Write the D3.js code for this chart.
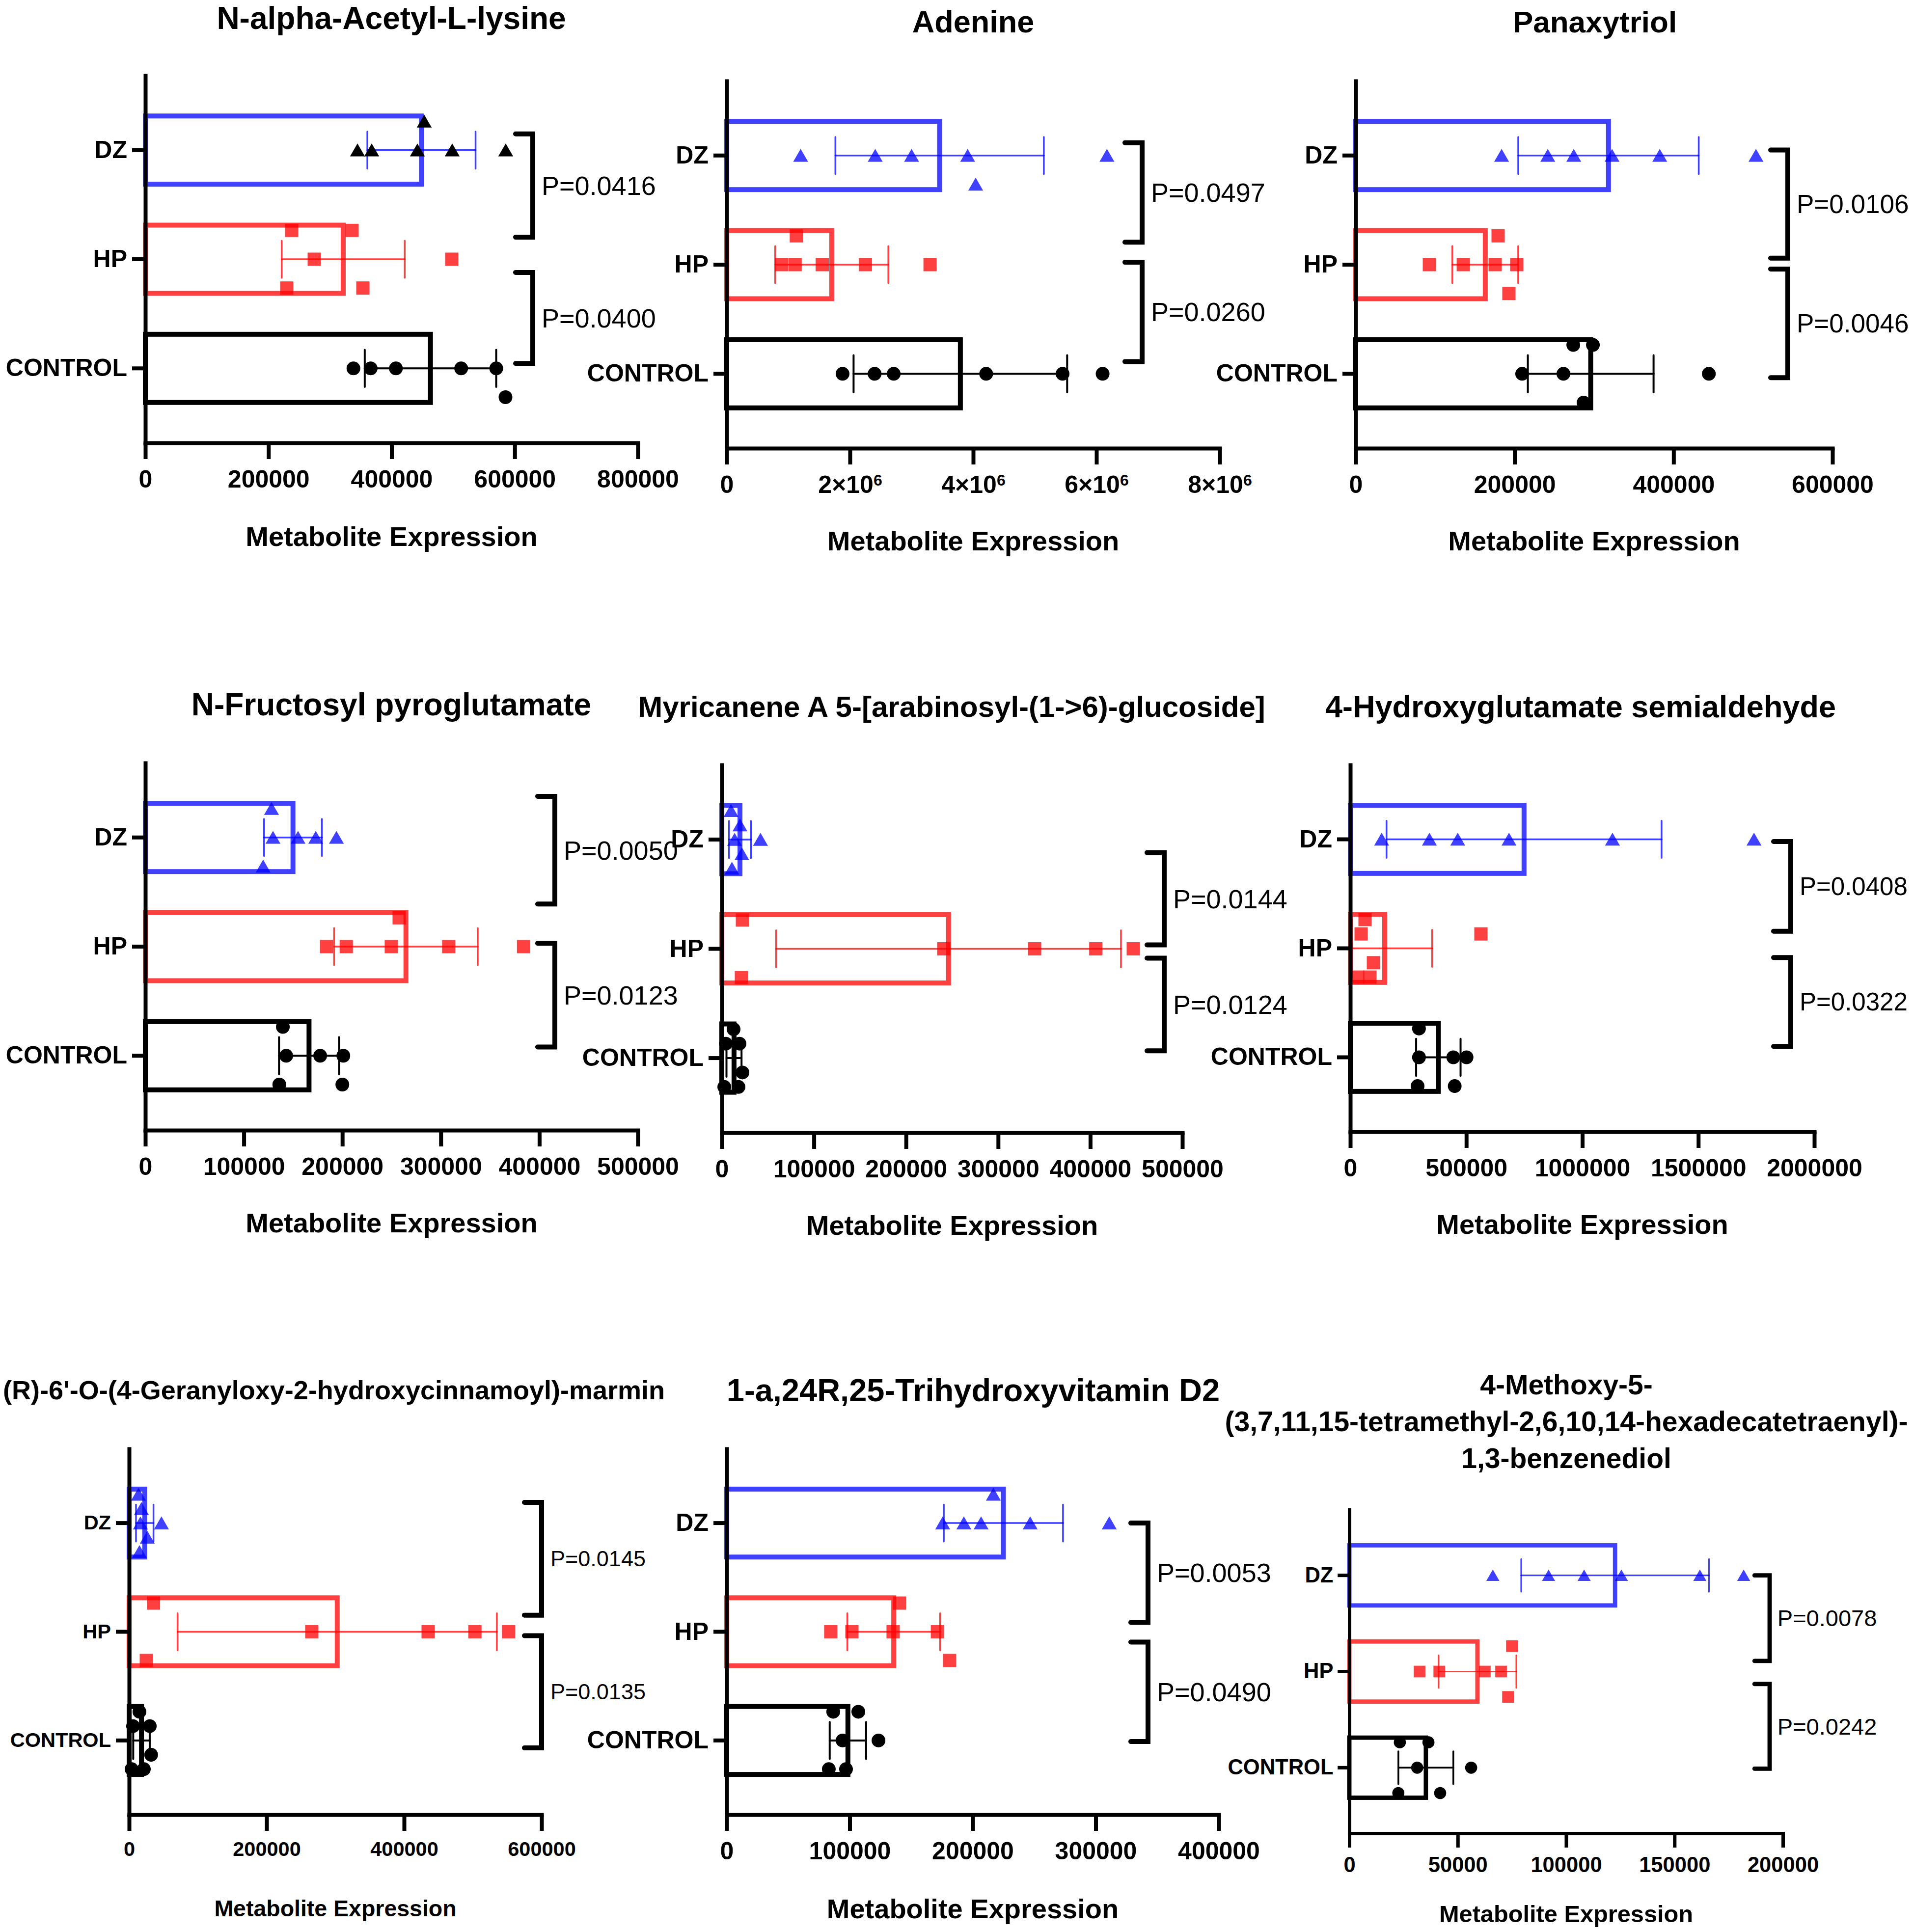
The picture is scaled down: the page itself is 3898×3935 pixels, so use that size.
<!DOCTYPE html>
<html>
<head>
<meta charset="utf-8">
<style>
body { margin: 0; padding: 0; background: #fff; }
svg { display: block; background: #fff; }
text {
  font-family: "Liberation Sans", Arial, Helvetica, sans-serif;
  fill: #000;
}
.title, .xlabel, .tick text { font-weight: bold; }
.pval { font-weight: normal; }
</style>
<script src="https://cdnjs.cloudflare.com/ajax/libs/d3/7.8.5/d3.min.js"></script>
</head>
<body>
<svg id="chart" width="3898" height="3935"></svg>
<script>
// ---- data ----
var titles = [
  ["N-alpha-Acetyl-L-lysine"],
  ["Adenine"],
  ["Panaxytriol"],
  ["N-Fructosyl pyroglutamate"],
  ["Myricanene A 5-[arabinosyl-(1->6)-glucoside]"],
  ["4-Hydroxyglutamate semialdehyde"],
  ["(R)-6'-O-(4-Geranyloxy-2-hydroxycinnamoyl)-marmin"],
  ["1-a,24R,25-Trihydroxyvitamin D2"],
  ["4-Methoxy-5-", "(3,7,11,15-tetramethyl-2,6,10,14-hexadecatetraenyl)-", "1,3-benzenediol"]
]

var groups = ["DZ", "HP", "CONTROL"]

var xMax = [800000, 8000000, 600000, 500000, 500000, 2000000, 600000, 400000, 200000]

var xTicks = [
  [0, 200000, 400000, 600000, 800000],
  [0, 2000000, 4000000, 6000000, 8000000],
  [0, 200000, 400000, 600000],
  [0, 100000, 200000, 300000, 400000, 500000],
  [0, 100000, 200000, 300000, 400000, 500000],
  [0, 500000, 1000000, 1500000, 2000000],
  [0, 200000, 400000, 600000],
  [0, 100000, 200000, 300000, 400000],
  [0, 50000, 100000, 150000, 200000]
]

// P values: DZ vs HP, HP vs CONTROL
var pUpper = ["P=0.0416", "P=0.0497", "P=0.0106", "P=0.0050", "P=0.0144", "P=0.0408", "P=0.0145", "P=0.0053", "P=0.0078"]
var pLower = ["P=0.0400", "P=0.0260", "P=0.0046", "P=0.0123", "P=0.0124", "P=0.0322", "P=0.0135", "P=0.0490", "P=0.0242"]

var dzValues = [
  [344600, 367700, 441900, 498500, 585400, 453000],
  [1200000, 2410000, 3000000, 3910000, 6170000, 4040000],
  [183600, 241700, 274400, 322600, 382600, 503700],
  [128100, 129600, 155000, 173000, 194000, 119600],
  [10000, 19700, 13900, 21800, 11000, 42000],
  [135000, 341000, 463000, 684000, 1130000, 1740000],
  [13600, 17900, 16400, 26400, 15000, 47000],
  [216800, 175600, 192800, 206800, 246700, 311000],
  [66200, 91900, 108300, 125500, 161700, 181900]
]

var hpValues = [
  [237700, 335800, 274400, 497700, 229700, 353400],
  [1130000, 890000, 1110000, 1550000, 2250000, 3300000],
  [179200, 92700, 135400, 175500, 202700, 192800],
  [257700, 184000, 204000, 249700, 308000, 384000],
  [22400, 241000, 339600, 406000, 446700, 21300],
  [63500, 46600, 563000, 99500, 31700, 84700],
  [35400, 265700, 435000, 503000, 552000, 25000],
  [140500, 84600, 101800, 135300, 171300, 181200],
  [75000, 32400, 41500, 62500, 70000, 73200]
]

var ctrlValues = [
  [338000, 366000, 407000, 513000, 570000, 585000],
  [1880000, 2400000, 2710000, 4210000, 5450000, 6100000],
  [273800, 298500, 209500, 261400, 444400, 286800],
  [139600, 143000, 177500, 201000, 136000, 200000],
  [12800, 4300, 19200, 22400, 2700, 18100],
  [296000, 296000, 444000, 501000, 290000, 450000],
  [15000, 5700, 30000, 32000, 3600, 21400],
  [86600, 107000, 94200, 123400, 83000, 97000],
  [23300, 36500, 31300, 56200, 22600, 41900]
]

// scatter row of each point (0 = on the bar centre line)
var dzRows = [
  [0, 0, 0, 0, 0, -2], [0, 0, 0, 0, 0, 2], [0, 0, 0, 0, 0, 0],
  [-2, 0, 0, 0, 0, 2], [-2, -1, 0, 1, 2, 0], [0, 0, 0, 0, 0, 0],
  [-2, -1, 0, 1, 2, 0], [-2, 0, 0, 0, 0, 0], [0, 0, 0, 0, 0, 0]
]
var hpRows = [
  [-2, -2, 0, 0, 2, 2], [-2, 0, 0, 0, 0, 0], [-2, 0, 0, 0, 0, 2],
  [-2, 0, 0, 0, 0, 0], [-2, 0, 0, 0, 0, 2], [-2, -1, -1, 1, 2, 2],
  [-2, 0, 0, 0, 0, 2], [-2, 0, 0, 0, 0, 2], [-2, 0, 0, 0, 0, 2]
]
var ctrlRows = [
  [0, 0, 0, 0, 0, 2], [0, 0, 0, 0, 0, 0], [-2, -2, 0, 0, 0, 2],
  [-2, 0, 0, 0, 2, 2], [-2, -1, -1, 1, 2, 2], [-2, 0, 0, 0, 2, 2],
  [-2, -1, -1, 1, 2, 2], [-2, -2, 0, 0, 2, 2], [-2, -2, 0, 0, 2, 2]
]

// ---- layout of each panel (pixels) ----
// x0/x1: x axis span, y0/y1: y axis span, tx/ty: title centre, tf: title size,
// bx: bracket x, br: bracket ends in band steps, pf: p-value size,
// k: text scale, s: mark scale, lg: axis title gap
var frames = [
  {x0: 296, x1: 1299, y0: 154, y1: 902, tx: 797, ty: 37, tf: 64, bx: 1085, br: [-0.148, -0.202, 0.121, -0.045], pf: 54, k: 1, s: 1, lg: 190},
  {x0: 1480, x1: 2484, y0: 165, y1: 913, tx: 1982, ty: 44, tf: 63, bx: 2326, br: [-0.117, -0.206, -0.022, -0.112], pf: 54, k: 1, s: 1, lg: 188},
  {x0: 2761, x1: 3732, y0: 165, y1: 913, tx: 3248, ty: 44, tf: 62, bx: 3641, br: [-0.05, -0.06, 0.04, 0.036], pf: 53, k: 1, s: 1, lg: 188},
  {x0: 296, x1: 1299, y0: 1554, y1: 2302, tx: 797, ty: 1435, tf: 64, bx: 1130, br: [-0.377, -0.39, -0.03, -0.08], pf: 54, k: 1, s: 1, lg: 188},
  {x0: 1470, x1: 2408, y0: 1558, y1: 2307, tx: 1938, ty: 1439, tf: 60, bx: 2371, br: [0.12, -0.036, 0.085, -0.067], pf: 54, k: 1, s: 1, lg: 188},
  {x0: 2750, x1: 3695, y0: 1558, y1: 2305, tx: 3219, ty: 1439, tf: 63, bx: 3647, br: [0.02, -0.157, 0.085, -0.1], pf: 51, k: 1, s: 1, lg: 188},
  {x0: 263, x1: 1103, y0: 2951, y1: 3696, tx: 680, ty: 2831, tf: 54, bx: 1103, br: [-0.19, -0.153, 0.036, 0.068], pf: 45, k: 0.83, s: 1, lg: 191},
  {x0: 1480, x1: 2482, y0: 2951, y1: 3696, tx: 1982, ty: 2831, tf: 65, bx: 2338, br: [0, -0.086, 0.095, 0.01], pf: 54, k: 1, s: 1, lg: 191},
  {x0: 2748, x1: 3631, y0: 3075, y1: 3734, tx: 3190, ty: 2820, tf: 57, bx: 3604, br: [0, -0.11, 0.13, 0.01], pf: 47, k: 0.87, s: 0.88, lg: 164}
]

var colors = ["rgba(0,0,255,0.75)", "rgba(255,0,0,0.75)", "#000"]
var symbols = [d3.symbolTriangle, d3.symbolSquare, d3.symbolCircle]
var symbolArea = [400, 729, 616]

var svg = d3.select("#chart")

frames.forEach(function(f, i) {
  var k = f.k, s = f.s
  var g = svg.append("g")

  var x = d3.scaleLinear().domain([0, xMax[i]]).range([f.x0, f.x1])
  var y = d3.scaleBand().domain(groups).range([f.y0, f.y1])
    .paddingInner(0.375).paddingOuter(0.37)
  var step = y.step()
  var cy = function(grp) { return y(grp) + y.bandwidth() / 2 }

  // title
  var t = g.append("text").attr("class", "title")
    .attr("text-anchor", "middle")
    .style("font-size", f.tf + "px")
  titles[i].forEach(function(line, j) {
    t.append("tspan")
      .attr("x", f.tx)
      .attr("y", f.ty + j * 75)
      .attr("dominant-baseline", "central")
      .text(line)
  })

  var sets = [dzValues[i], hpValues[i], ctrlValues[i]]
  var rows = [dzRows[i], hpRows[i], ctrlRows[i]]

  // bars (mean)
  groups.forEach(function(grp, j) {
    var m = d3.mean(sets[j])
    g.append("rect")
      .attr("x", x(0))
      .attr("y", y(grp))
      .attr("width", x(m) - x(0))
      .attr("height", y.bandwidth())
      .attr("fill", "none")
      .attr("stroke", colors[j])
      .attr("stroke-width", 10 * s)
  })

  // error bars (mean +/- SD)
  groups.forEach(function(grp, j) {
    var m = d3.mean(sets[j]), sd = d3.deviation(sets[j])
    var lo = Math.max(0, m - sd), hi = m + sd
    var c = cy(grp), cap = 0.17 * step
    var eg = g.append("g")
      .attr("stroke", colors[j])
      .attr("stroke-width", (j == 2 ? 4 : 3.5) * s)
      .attr("stroke-linecap", "round")
      .attr("fill", "none")
    eg.append("line").attr("x1", x(lo)).attr("x2", x(hi)).attr("y1", c).attr("y2", c)
    if (m - sd > 0) {
      eg.append("line").attr("x1", x(lo)).attr("x2", x(lo)).attr("y1", c - cap).attr("y2", c + cap)
    }
    eg.append("line").attr("x1", x(hi)).attr("x2", x(hi)).attr("y1", c - cap).attr("y2", c + cap)
  })

  // individual points
  groups.forEach(function(grp, j) {
    var sym = d3.symbol().type(symbols[j]).size(symbolArea[j] * s * s)
    var fill = (i == 0 && j == 0) ? "#000" : colors[j]
    g.append("g").selectAll("path")
      .data(sets[j])
      .join("path")
      .attr("d", sym)
      .attr("fill", fill)
      .attr("transform", function(d, n) {
        var dy = rows[j][n] * 0.132 * step
        var ty = j == 0 ? 4 * s : 0
        return "translate(" + x(d) + "," + (cy(grp) + dy + ty) + ")"
      })
  })

  // axes
  var sci = xMax[i] >= 8000000
  var fmt = sci ? function(v) { return v == 0 ? "0" : (v / 1e6) + "×10" } : d3.format("d")
  var xa = g.append("g")
    .attr("transform", "translate(0," + f.y1 + ")")
    .call(d3.axisBottom(x).tickValues(xTicks[i]).tickSize(33 * s).tickSizeOuter(0)
      .tickPadding(22 * s).tickFormat(fmt))
  xa.selectAll("text").style("font-size", (50 * k) + "px")
  if (sci) {
    xa.selectAll("text").filter(function(d) { return d != 0 })
      .append("tspan")
      .attr("dy", "-0.45em")
      .style("font-size", (32 * k) + "px")
      .text("6")
  }

  var ya = g.append("g")
    .attr("transform", "translate(" + f.x0 + ",0)")
    .call(d3.axisLeft(y).tickSize(27 * s).tickSizeOuter(0).tickPadding(10 * s))
  ya.selectAll("text").style("font-size", (50 * k) + "px")

  g.selectAll(".domain")
    .attr("stroke", "#000")
    .attr("stroke-width", 8 * s)
    .attr("stroke-linecap", "square")
  g.selectAll(".tick line")
    .attr("stroke", "#000")
    .attr("stroke-width", 8 * s)

  g.append("text").attr("class", "xlabel")
    .attr("x", (f.x0 + f.x1) / 2)
    .attr("y", f.y1 + f.lg)
    .attr("text-anchor", "middle")
    .attr("dominant-baseline", "central")
    .style("font-size", (56 * k) + "px")
    .text("Metabolite Expression")

  // significance brackets
  var arm = 35 * s
  var spans = [
    [cy("DZ") + f.br[0] * step, cy("HP") + f.br[1] * step, pUpper[i]],
    [cy("HP") + f.br[2] * step, cy("CONTROL") + f.br[3] * step, pLower[i]]
  ]
  spans.forEach(function(sp) {
    g.append("path")
      .attr("d", "M" + (f.bx - arm) + "," + sp[0] + "H" + f.bx + "V" + sp[1] + "H" + (f.bx - arm))
      .attr("fill", "none")
      .attr("stroke", "#000")
      .attr("stroke-width", 10 * s)
      .attr("stroke-linecap", "round")
    g.append("text").attr("class", "pval")
      .attr("x", f.bx + 18 * s)
      .attr("y", (sp[0] + sp[1]) / 2)
      .attr("dominant-baseline", "central")
      .style("font-size", f.pf + "px")
      .text(sp[2])
  })
})
</script>
</body>
</html>
